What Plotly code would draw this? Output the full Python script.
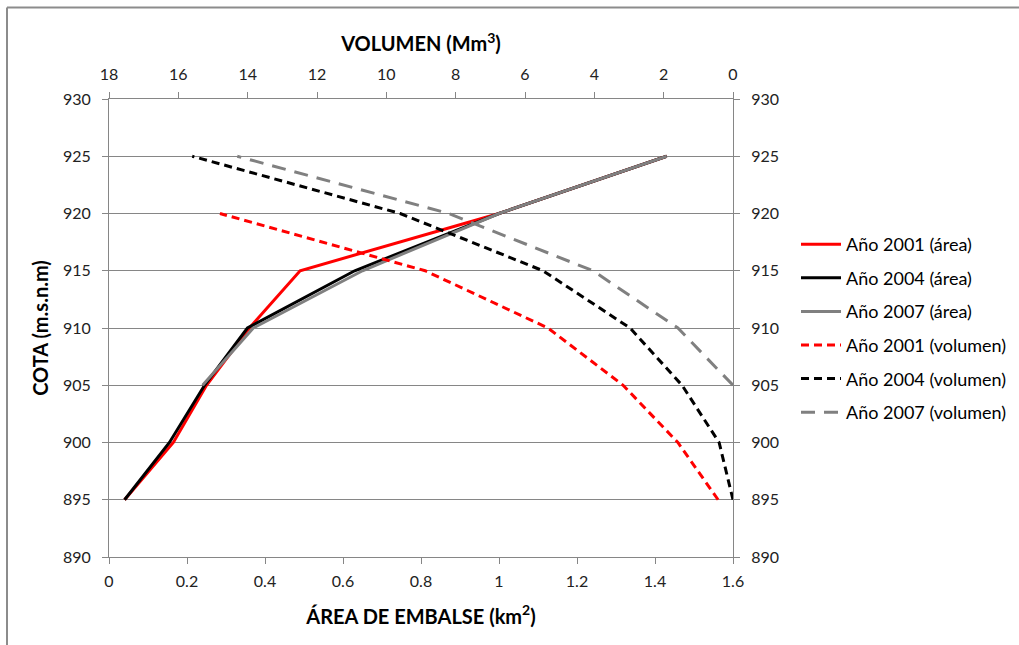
import plotly.graph_objects as go

# Elevation levels (m.s.n.m)
cota = [895, 900, 905, 910, 915, 920, 925]
cota_2007 = [905, 910, 915, 920, 925]
cota_vol_2001 = [895, 900, 905, 910, 915, 920]

# Reservoir surface area (km2)
area_2001 = [0.04, 0.165, 0.25, 0.36, 0.49, 1.0, 1.43]
area_2004 = [0.04, 0.155, 0.245, 0.355, 0.63, 1.0, 1.43]
area_2007 = [0.24, 0.37, 0.65, 1.0, 1.43]

# Stored volume (Mm3)
vol_2001 = [0.43, 1.59, 3.17, 5.34, 8.88, 14.8]
vol_2004 = [0.0, 0.40, 1.47, 2.97, 5.48, 9.6, 15.6]
vol_2007 = [0.0, 1.59, 4.04, 8.2, 14.3]

y_ticks = [890, 895, 900, 905, 910, 915, 920, 925, 930]
area_ticks = [0, 0.2, 0.4, 0.6, 0.8, 1.0, 1.2, 1.4, 1.6]
area_labels = ["0", "0.2", "0.4", "0.6", "0.8", "1", "1.2", "1.4", "1.6"]
vol_ticks = [18, 16, 14, 12, 10, 8, 6, 4, 2, 0]

RED = "#FF0000"
BLACK = "#000000"
GRAY = "#808080"
AXIS = "#868686"
FONT = "Lato"

W, H = 1019, 645
L, R, T, B = 109, 733, 99, 557


def px_to_paper(x, y):
    return (x - L) / (R - L), (B - y) / (B - T)


fig = go.Figure()

area_series = [
    ("Año 2001 (área)", area_2001, cota, RED),
    ("Año 2004 (área)", area_2004, cota, BLACK),
    ("Año 2007 (área)", area_2007, cota_2007, GRAY),
]
for i, (name, xs, ys, col) in enumerate(area_series):
    fig.add_trace(go.Scatter(
        x=xs, y=ys, name=name, mode="lines", legendgroup=f"g{i}",
        line=dict(color=col, width=3), xaxis="x", yaxis="y",
    ))

vol_series = [
    ("Año 2001 (volumen)", vol_2001, cota_vol_2001, RED, "8px,5px"),
    ("Año 2004 (volumen)", vol_2004, cota, BLACK, "8px,5px"),
    ("Año 2007 (volumen)", vol_2007, cota_2007, GRAY, "14px,9px"),
]
for i, (name, xs, ys, col, dash) in enumerate(vol_series):
    fig.add_trace(go.Scatter(
        x=xs, y=ys, name=name, mode="lines", legendgroup=f"g{i + 3}",
        line=dict(color=col, width=3, dash=dash), xaxis="x2", yaxis="y2",
    ))

tick_font = dict(family=FONT, size=16, color="#222222")
title_font = dict(family=FONT, size=20, color="#000000")

common_y = dict(
    range=[890, 930], tickvals=y_ticks, showline=True, linecolor=AXIS,
    linewidth=1, ticks="outside", ticklen=6, tickcolor=AXIS,
    tickfont=tick_font, zeroline=False,
)

fig.update_layout(
    width=W, height=H,
    margin=dict(l=L, r=W - R, t=T, b=H - B, autoexpand=False),
    paper_bgcolor="white", plot_bgcolor="white",
    font=dict(family=FONT, size=16, color="#000000"),
    xaxis=dict(
        range=[0, 1.6], tickvals=area_ticks, ticktext=area_labels,
        showline=True, linecolor=AXIS, linewidth=1, ticks="outside",
        ticklen=6, tickcolor=AXIS, showgrid=False, zeroline=False,
        tickfont=tick_font, ticklabelstandoff=4,
        title=dict(text="<b>ÁREA DE EMBALSE (km<sup>2</sup>)</b>",
                   font=title_font, standoff=20),
    ),
    xaxis2=dict(
        range=[18, 0], tickvals=vol_ticks, overlaying="x", side="top",
        anchor="y", showline=True, linecolor=AXIS, linewidth=1,
        ticks="outside", ticklen=6, tickcolor=AXIS, showgrid=False,
        zeroline=False, tickfont=tick_font, ticklabelstandoff=6,
        title=dict(text="<b>VOLUMEN (Mm<sup>3</sup>)</b>",
                   font=title_font, standoff=6),
    ),
    yaxis=dict(
        **common_y, side="left", showgrid=True, gridcolor=AXIS,
        gridwidth=1, ticklabelstandoff=8,
        title=dict(text="<b>COTA (m.s.n.m)</b>", font=title_font,
                   standoff=8),
    ),
    yaxis2=dict(
        **common_y, side="right", overlaying="y", anchor="x",
        showgrid=False, ticklabelstandoff=8,
    ),
    legend=dict(
        x=px_to_paper(796, 0)[0], y=px_to_paper(0, 226)[1],
        xanchor="left", yanchor="top", bgcolor="rgba(0,0,0,0)",
        font=dict(family=FONT, size=18, color="#000000"),
        tracegroupgap=7.2, itemwidth=40, traceorder="grouped",
    ),
    showlegend=True,
)

# Chart frame along the top and left edges
x0, y0 = px_to_paper(7, 7.5)
x1, _ = px_to_paper(W + 5, 0)
_, y1 = px_to_paper(0, H + 5)
fig.add_shape(type="line", xref="paper", yref="paper", x0=x0, y0=y0,
              x1=x1, y1=y0, line=dict(color="#8c8c8c", width=2),
              layer="above")
fig.add_shape(type="line", xref="paper", yref="paper", x0=x0, y0=y0,
              x1=x0, y1=y1, line=dict(color="#8c8c8c", width=2),
              layer="above")

fig.write_html("out.html")
